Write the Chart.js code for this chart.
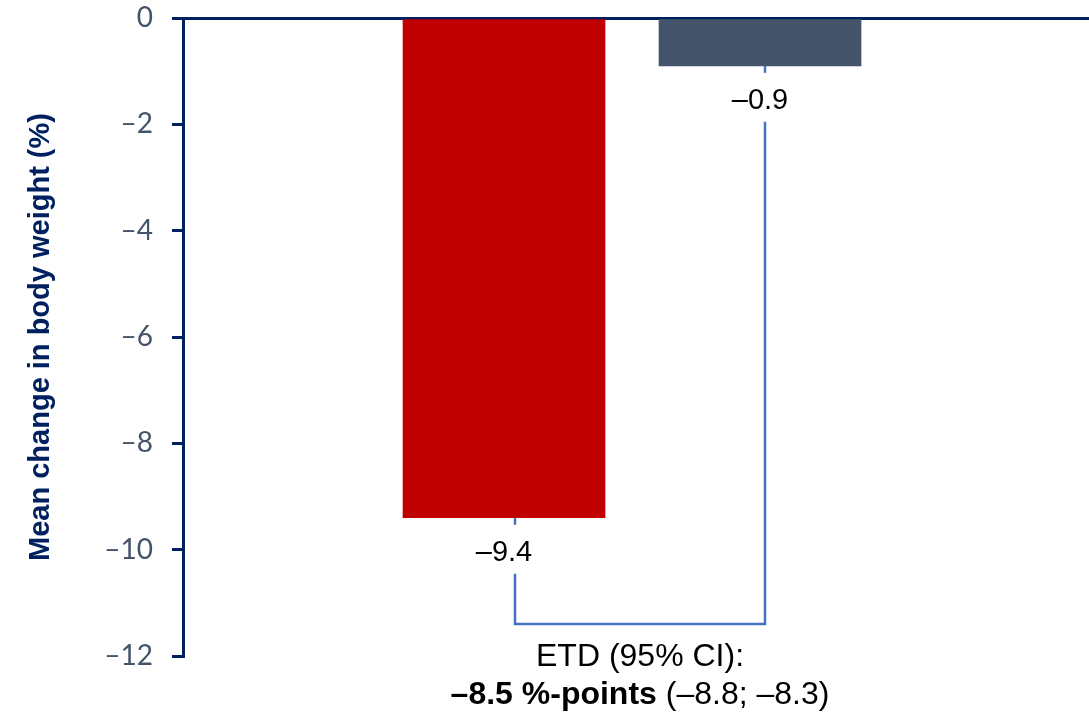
<!DOCTYPE html>
<html><head><meta charset="utf-8">
<script src="https://cdn.jsdelivr.net/npm/chart.js@4"></script>
<style>html,body{margin:0;padding:0;background:#fff}#wrap{width:1089px;height:713px}</style>
</head><body><div id="wrap"><canvas id="c" width="1089" height="713"></canvas></div>
<script>
// ---- data ----
const categories = ['Semaglutide', 'Placebo'];
const values = [-9.4, -0.9];
const valueLabels = ['\u20139.4', '\u20130.9'];
const barColors = ['#C00000', '#44546A'];
const yTickValues = [0, -2, -4, -6, -8, -10, -12];
const bracketLevel = -11.4;
const bracketX = [1.043, 2.02];
const etdLine1 = 'ETD (95% CI):';
const etdBold = '\u20138.5 %-points';
const etdRest = ' (\u20138.8; \u20138.3)';
const yTitle = 'Mean change in body weight (%)';

const NAVY = '#002060';
const LINE = '#4472C4';

const annotPlugin = {
  id: 'annot',
  beforeDraw(chart) {
    const ctx = chart.ctx;
    ctx.save();
    ctx.fillStyle = '#fff';
    ctx.fillRect(0, 0, chart.width, chart.height);
    ctx.restore();
  },
  afterDatasetsDraw(chart) {
    const ctx = chart.ctx;
    const meta = chart.getDatasetMeta(0);
    const xs = chart.scales.x, ys = chart.scales.y;
    const bY = ys.getPixelForValue(bracketLevel);
    ctx.save();
    ctx.font = '29px "Liberation Sans", Arial, sans-serif';
    ctx.fillStyle = '#000';
    ctx.textAlign = 'center';
    ctx.textBaseline = 'middle';
    const lx = [];
    meta.data.forEach((bar, i) => {
      const bottom = bar.y;
      const labelY = bottom + 35;
      ctx.fillText(valueLabels[i], bar.x, labelY);
      const x = Math.round(xs.getPixelForValue(bracketX[i]));
      lx.push(x);
      ctx.strokeStyle = LINE;
      ctx.lineWidth = 2.5;
      ctx.beginPath();
      ctx.moveTo(x, bottom);
      ctx.lineTo(x, labelY - 28);
      ctx.stroke();
    });
    // bracket
    const l0 = meta.data[0].y + 35 + 21;
    const l1 = meta.data[1].y + 35 + 21;
    ctx.beginPath();
    ctx.moveTo(lx[0], l0);
    ctx.lineTo(lx[0], bY);
    ctx.lineTo(lx[1], bY);
    ctx.lineTo(lx[1], l1);
    ctx.lineJoin = 'miter';
    ctx.stroke();
    // ETD text
    const cx = (lx[0] + lx[1]) / 2;
    const ca = chart.chartArea;
    ctx.fillStyle = '#000';
    ctx.font = '32px "Liberation Sans", Arial, sans-serif';
    ctx.fillText(etdLine1, cx, ca.bottom + 1);
    const fb = 'bold 32px "Liberation Sans", Arial, sans-serif';
    const fn = '32px "Liberation Sans", Arial, sans-serif';
    ctx.font = fb; const wb = ctx.measureText(etdBold).width;
    ctx.font = fn; const wn = ctx.measureText(etdRest).width;
    let sx = cx - (wb + wn) / 2;
    ctx.textAlign = 'left';
    ctx.font = fb; ctx.fillText(etdBold, sx, ca.bottom + 39);
    ctx.font = fn; ctx.fillText(etdRest, sx + wb, ca.bottom + 39);
    ctx.restore();
  }
};

new Chart(document.getElementById('c'), {
  type: 'bar',
  data: {
    labels: categories,
    datasets: [{
      data: categories.map((c, i) => ({ x: i + 1, y: values[i] })),
      backgroundColor: barColors,
      borderWidth: 0,
      barThickness: 202
    }]
  },
  options: {
    responsive: false,
    animation: false,
    devicePixelRatio: 1,
    layout: { padding: { top: 18, bottom: 57, left: 0, right: 0 } },
    plugins: { legend: { display: false }, tooltip: { enabled: false } },
    scales: {
      x: {
        type: 'linear',
        position: 'top',
        offset: false,
        min: -0.2539,
        max: 3.285,
        ticks: { display: false },
        grid: { display: false },
        border: { display: true, color: NAVY, width: 3 },
        afterFit(s) { s.height = 0; s.paddingLeft = 0; s.paddingRight = 0; }
      },
      y: {
        min: -12,
        max: 0,
        afterBuildTicks(s) { s.ticks = yTickValues.map(v => ({ value: v })); },
        ticks: {
          padding: 19,
          color: '#44546A',
          font: { family: 'Lato, "Open Sans", sans-serif', size: 28 },
          callback: v => v === 0 ? '0' : '\u2013' + Math.abs(v)
        },
        grid: { display: true, drawOnChartArea: false, drawTicks: true, tickLength: 11, color: NAVY, lineWidth: 3 },
        border: { display: true, color: NAVY, width: 3 },
        title: {
          display: true,
          text: yTitle,
          color: NAVY,
          font: { family: '"Liberation Sans", Arial, sans-serif', size: 29, weight: 'bold' },
          padding: { top: 24, bottom: 0 }
        },
        afterFit(s) { s.width = 183; s.paddingTop = 0; s.paddingBottom = 0; }
      }
    }
  },
  plugins: [annotPlugin]
});
</script>
</body></html>
